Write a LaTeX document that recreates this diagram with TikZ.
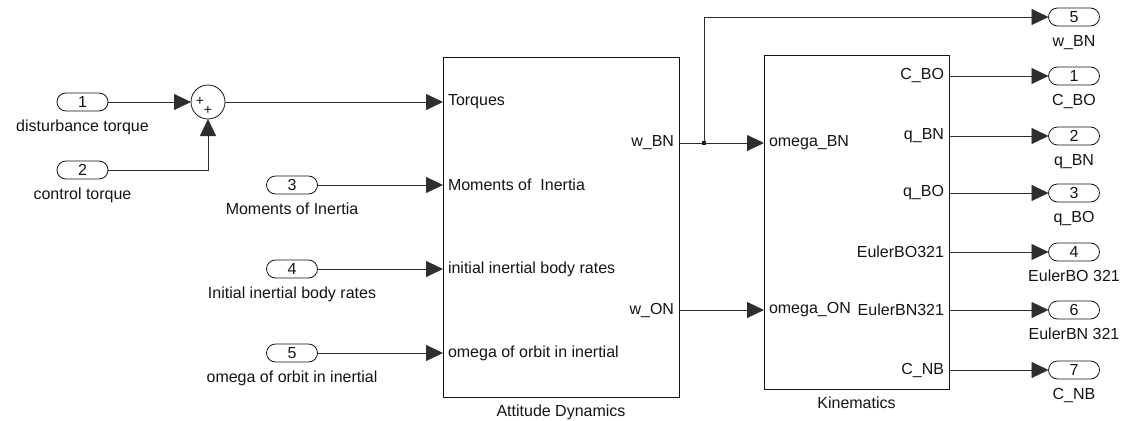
\documentclass[tikz,border=0pt]{standalone}
\usepackage{fontspec}
\setmainfont{Liberation Sans}
\usetikzlibrary{arrows.meta,positioning}
\definecolor{SimInk}{gray}{0.08}
\definecolor{SimWire}{gray}{0.18}
\tikzset{
    sim/diagram/.style={
        x=1pt, y=-1pt,
        font=\fontsize{16}{19}\selectfont,
        text=SimInk,
        line width=0.8pt,
        line cap=butt,
        every node/.style={inner sep=2pt, outer sep=0pt}
    },
    sim/block/.style={
        rectangle, draw=SimInk, line width=0.9pt, fill=white
    },
    sim/inport/.style={
        rectangle, draw=SimInk, line width=0.8pt,
        minimum width=51pt, minimum height=18pt,
        rounded corners=9pt, inner sep=0pt
    },
    sim/outport/.style={sim/inport},
    sim/caption/.style={inner sep=1pt},
    sim/portin/.style={anchor=west, inner sep=5pt},
    sim/portout/.style={anchor=east, inner sep=5pt},
    sim/sum/.style={
        circle, draw=SimInk, line width=0.8pt,
        minimum size=34pt, inner sep=0pt
    },
    sim/sign/.style={font=\fontsize{14}{14}\selectfont, inner sep=0pt},
    sim/junction/.style={
        rectangle, fill=SimInk, minimum size=3.6pt, inner sep=0pt
    },
    sim/signal/.style={
        draw=SimWire, line width=0.8pt,
        -{Triangle[length=17pt, width=16pt]}
    }
}

\begin{document}
\begin{tikzpicture}[sim/diagram]
    \useasboundingbox (0,0) rectangle (1123,420);

    % blocks
    \node[sim/block, minimum width=236pt, minimum height=340pt] (dyn) at (561,227) {};
    \node[sim/caption, below=7pt of dyn] (dynname) {Attitude Dynamics};
    \node[sim/block, minimum width=185pt, minimum height=334pt] (kin) at (856.5,222) {};
    \node[sim/caption, below=7pt of kin] (kinname) {Kinematics};

    \node[sim/portin] (dynTorq) at (443,102) {Torques};
    \node[sim/portin] (dynMoi) at (443,185) {Moments of\ \ Inertia};
    \node[sim/portin] (dynRate) at (443,269) {initial inertial body rates};
    \node[sim/portin] (dynOrb) at (443,353) {omega of orbit in inertial};
    \node[sim/portout] (dynWbn) at (679,143) {w\_BN};
    \node[sim/portout] (dynWon) at (679,310) {w\_ON};

    \node[sim/portin] (kinWbn) at (764,143) {omega\_BN};
    \node[sim/portin] (kinWon) at (764,310) {omega\_ON};
    \node[sim/portout] (kinCbo) at (949,76) {C\_BO};
    \node[sim/portout] (kinQbn) at (949,136) {q\_BN};
    \node[sim/portout] (kinQbo) at (949,193) {q\_BO};
    \node[sim/portout] (kinEbo) at (949,252) {EulerBO321};
    \node[sim/portout] (kinEbn) at (949,310) {EulerBN321};
    \node[sim/portout] (kinCnb) at (949,370) {C\_NB};

    % inports
    \node[sim/inport] (in1) at (82.5,102) {1};
    \node[sim/caption, below=8pt of in1] (in1name) {disturbance torque};
    \node[sim/inport] (in2) at (82.5,170) {2};
    \node[sim/caption, below=8pt of in2] (in2name) {control torque};
    \node[sim/inport] (in3) at (292,185) {3};
    \node[sim/caption, below=8pt of in3] (in3name) {Moments of Inertia};
    \node[sim/inport] (in4) at (292,269) {4};
    \node[sim/caption, below=8pt of in4] (in4name) {Initial inertial body rates};
    \node[sim/inport] (in5) at (292,353) {5};
    \node[sim/caption, below=8pt of in5] (in5name) {omega of orbit in inertial};

    \node[sim/sum] (sum) at (208,102) {};
    \node[sim/sign] (sumA) at (200,101) {+};
    \node[sim/sign] (sumB) at (208,110) {+};

    % outports
    \node[sim/outport] (out5) at (1074,17) {5};
    \node[sim/caption, below=8pt of out5] (out5name) {w\_BN};
    \node[sim/outport] (out1) at (1074,76) {1};
    \node[sim/caption, below=8pt of out1] (out1name) {C\_BO};
    \node[sim/outport] (out2) at (1074,136) {2};
    \node[sim/caption, below=8pt of out2] (out2name) {q\_BN};
    \node[sim/outport] (out3) at (1074,193) {3};
    \node[sim/caption, below=8pt of out3] (out3name) {q\_BO};
    \node[sim/outport] (out4) at (1074,252) {4};
    \node[sim/caption, below=8pt of out4] (out4name) {EulerBO 321};
    \node[sim/outport] (out6) at (1074,310) {6};
    \node[sim/caption, below=8pt of out6] (out6name) {EulerBN 321};
    \node[sim/outport] (out7) at (1074,370) {7};
    \node[sim/caption, below=8pt of out7] (out7name) {C\_NB};

    % signals
    \draw[sim/signal] (in1.east) -- (sum.west);
    \draw[sim/signal] (in2.east) -| (sum.south);
    \draw[sim/signal] (sum.east) -- (dynTorq.west);
    \draw[sim/signal] (in3.east) -- (dynMoi.west);
    \draw[sim/signal] (in4.east) -- (dynRate.west);
    \draw[sim/signal] (in5.east) -- (dynOrb.west);

    \draw[sim/signal] (dynWbn.east) -- (kinWbn.west);
    \node[sim/junction] (split) at (704,143) {};
    \draw[sim/signal] (split.center) |- (out5.west);
    \draw[sim/signal] (dynWon.east) -- (kinWon.west);

    \draw[sim/signal] (kinCbo.east) -- (out1.west);
    \draw[sim/signal] (kinQbn.east) -- (out2.west);
    \draw[sim/signal] (kinQbo.east) -- (out3.west);
    \draw[sim/signal] (kinEbo.east) -- (out4.west);
    \draw[sim/signal] (kinEbn.east) -- (out6.west);
    \draw[sim/signal] (kinCnb.east) -- (out7.west);
\end{tikzpicture}
\end{document}
